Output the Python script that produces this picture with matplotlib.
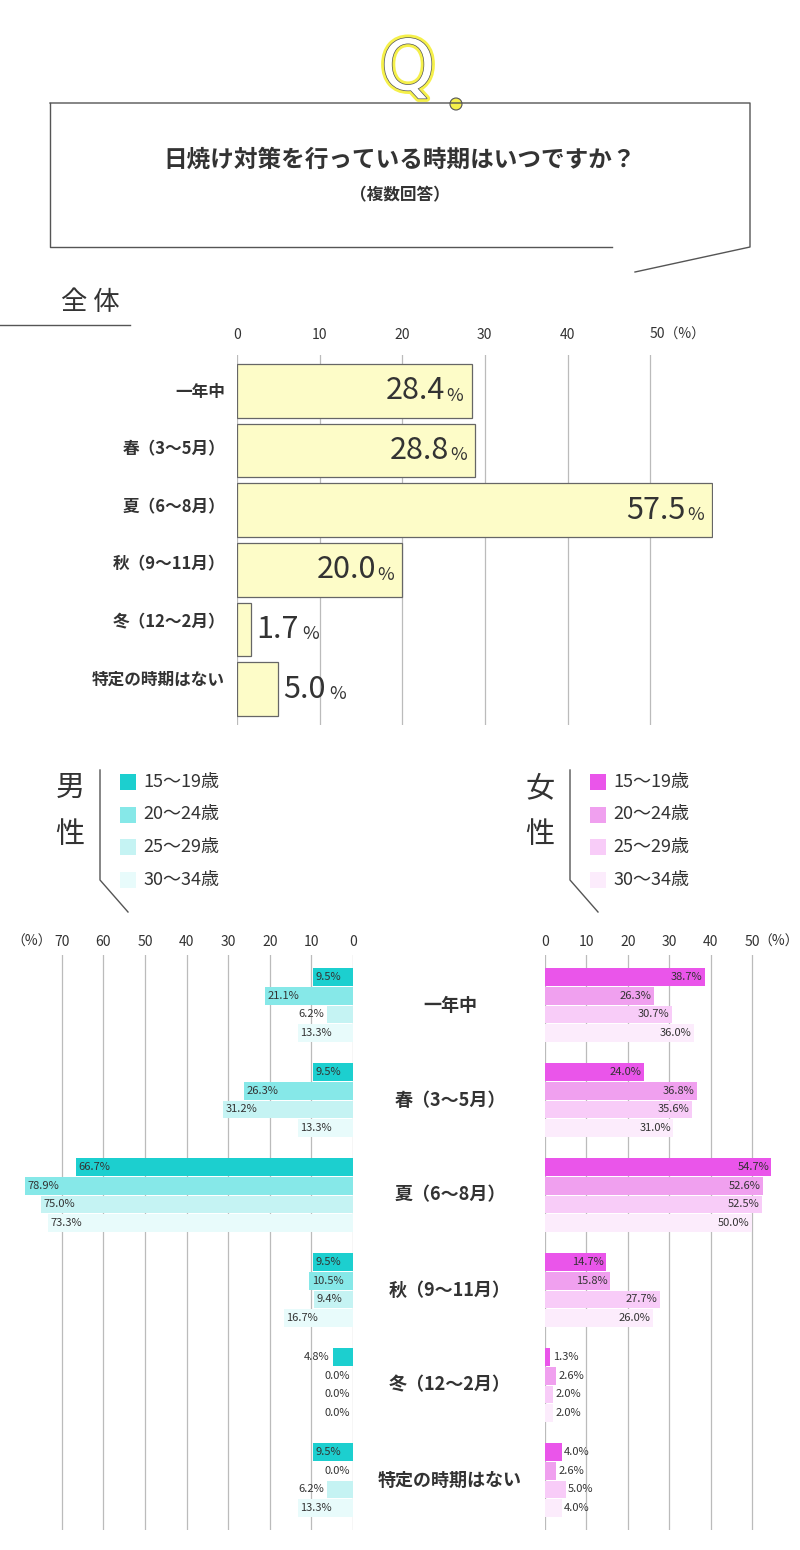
import matplotlib
matplotlib.use("Agg")
import matplotlib.pyplot as plt
import matplotlib.patheffects as pe
from matplotlib.lines import Line2D
from matplotlib.patches import Rectangle, Ellipse

plt.rcParams["font.family"] = ["Noto Sans CJK JP", "DejaVu Sans"]

CATEGORIES = ["一年中", "春（3～5月）", "夏（6～8月）", "秋（9～11月）", "冬（12～2月）", "特定の時期はない"]
TOTAL = [28.4, 28.8, 57.5, 20.0, 1.7, 5.0]
AGES = ["15～19歳", "20～24歳", "25～29歳", "30～34歳"]
MEN = [
    [9.5, 21.1, 6.2, 13.3],
    [9.5, 26.3, 31.2, 13.3],
    [66.7, 78.9, 75.0, 73.3],
    [9.5, 10.5, 9.4, 16.7],
    [4.8, 0.0, 0.0, 0.0],
    [9.5, 0.0, 6.2, 13.3],
]
WOMEN = [
    [38.7, 26.3, 30.7, 36.0],
    [24.0, 36.8, 35.6, 31.0],
    [54.7, 52.6, 52.5, 50.0],
    [14.7, 15.8, 27.7, 26.0],
    [1.3, 2.6, 2.0, 2.0],
    [4.0, 2.6, 5.0, 4.0],
]
MEN_COLORS = ["#1ccfcf", "#86e8e8", "#c5f3f3", "#e8fbfb"]
WOMEN_COLORS = ["#ea55ea", "#f0a0ef", "#f8ccf8", "#fcecfc"]
INK = "#333333"
GRID = "#bbbbbb"
W, H = 800, 1550

fig = plt.figure(figsize=(8, 15.5), dpi=100, facecolor="white")


def fx(x):
    return x / W


def fy(y):
    return 1 - y / H


def line(xs, ys, color="#555555", lw=1.0):
    fig.add_artist(Line2D([fx(x) for x in xs], [fy(y) for y in ys], color=color, lw=lw))


def pax(x0, y0, x1, y1):
    return fig.add_axes([fx(x0), fy(y1), (x1 - x0) / W, (y1 - y0) / H])


# header box
line([50, 750, 750, 635], [103, 103, 247, 272])
line([612, 50, 50], [247, 247, 103])
fig.text(fx(408), fy(70), "Q", fontsize=50, ha="center", va="center", color="white",
         family="DejaVu Sans",
         path_effects=[pe.withStroke(linewidth=5, foreground="#f5f04a"),
                       pe.withStroke(linewidth=1, foreground="#555555")])
fig.add_artist(Ellipse((fx(456), fy(104)), 12 / W, 12 / H, transform=fig.transFigure,
                       facecolor="#f5f04a", edgecolor="#555555", lw=0.8))
fig.text(fx(400), fy(160), "日焼け対策を行っている時期はいつですか？", fontsize=17, ha="center",
         va="center", color=INK, fontweight="bold")
fig.text(fx(400), fy(195), "（複数回答）", fontsize=12, ha="center", va="center", color=INK,
         fontweight="bold")

# overall
fig.text(fx(90), fy(303), "全 体", fontsize=19, ha="center", va="center", color=INK)
line([0, 130], [325, 325])

ax = pax(237, 355, 713, 725)
ax.set_xlim(0, 57.6)
ax.set_ylim(len(TOTAL) - 0.4, -0.6)
for spine in ax.spines.values():
    spine.set_visible(False)
ax.set_xticks([0, 10, 20, 30, 40, 50])
ax.grid(axis="x", color=GRID, lw=0.9)
ax.set_axisbelow(True)
ax.tick_params(length=0, labelbottom=False, labelleft=False)
ax.barh(range(len(TOTAL)), TOTAL, height=0.9, color="#fdfcc8", edgecolor="#666666", lw=0.9)
for i, v in enumerate(TOTAL):
    if v >= 10:
        ax.text(v - 1, i + 0.08, "%", fontsize=13, ha="right", va="center", color=INK)
        ax.text(v - 3.2, i, f"{v:.1f}", fontsize=22, ha="right", va="center", color=INK)
    else:
        ax.text(v + 0.6, i, f"{v:.1f}", fontsize=22, ha="left", va="center", color=INK)
        ax.text(v + 6.2, i + 0.08, "%", fontsize=13, ha="left", va="center", color=INK)
for i, c in enumerate(CATEGORIES):
    fig.text(fx(225), fy(392 + i * 57.6), c, fontsize=12, ha="right", va="center", color=INK,
             fontweight="bold")
for t in [0, 10, 20, 30, 40]:
    fig.text(fx(237 + t * 8.26), fy(335), str(t), fontsize=10, ha="center", va="center", color=INK)
fig.text(fx(650), fy(335), "50（%）", fontsize=10, ha="left", va="center", color=INK)

# legends
for x_label, x_line, x_sq, name, colors in [(70, 100, 120, "男", MEN_COLORS), (540, 570, 590, "女", WOMEN_COLORS)]:
    fig.text(fx(x_label), fy(788), name, fontsize=21, ha="center", va="center", color=INK)
    fig.text(fx(x_label), fy(835), "性", fontsize=21, ha="center", va="center", color=INK)
    line([x_line, x_line, x_line + 28], [770, 880, 912])
    for k, (a, c) in enumerate(zip(AGES, colors)):
        yy = 782 + k * 32.5
        fig.add_artist(Rectangle((fx(x_sq), fy(yy + 8)), 16 / W, 16 / H, transform=fig.transFigure,
                                 facecolor=c, edgecolor="none"))
        fig.text(fx(x_sq + 23), fy(yy), a, fontsize=13, ha="left", va="center", color=INK)

# gender axes
STEP = 18.7
GROUP = 95
Y0 = 977
n = len(CATEGORIES)


def bar_axes(x0, x1, xmax, invert):
    a = pax(x0, 955, x1, 1530)
    a.set_xlim(0, xmax)
    if invert:
        a.invert_xaxis()
    a.set_ylim((1530 - 955) / STEP, 0)
    for spine in a.spines.values():
        spine.set_visible(False)
    a.tick_params(length=0, labelbottom=False, labelleft=False)
    a.grid(axis="x", color=GRID, lw=0.9)
    a.set_axisbelow(True)
    return a


axm = bar_axes(20, 353, (353 - 20) / 4.16, True)
axm.set_xticks(range(0, 71, 10))
axw = bar_axes(545, 790, (790 - 545) / 4.14, False)
axw.set_xticks(range(0, 51, 10))

for gi in range(n):
    for k in range(4):
        yc = (Y0 + gi * GROUP + k * STEP - 955) / STEP
        vm = MEN[gi][k]
        vw = WOMEN[gi][k]
        axm.barh(yc, vm, height=0.95, color=MEN_COLORS[k])
        axw.barh(yc, vw, height=0.95, color=WOMEN_COLORS[k])
        if vm >= 9:
            axm.text(vm - 0.6, yc, f"{vm:.1f}%", fontsize=8, ha="left", va="center", color=INK)
        else:
            axm.text(vm + 0.8, yc, f"{vm:.1f}%", fontsize=8, ha="right", va="center", color=INK)
        if vw >= 10:
            axw.text(vw - 0.6, yc, f"{vw:.1f}%", fontsize=8, ha="right", va="center", color=INK)
        else:
            axw.text(vw + 0.6, yc, f"{vw:.1f}%", fontsize=8, ha="left", va="center", color=INK)
    fig.text(fx(450), fy(Y0 + gi * GROUP + 1.5 * STEP), CATEGORIES[gi], fontsize=13,
             ha="center", va="center", color=INK, fontweight="bold")

for t in range(0, 71, 10):
    fig.text(fx(353 - t * 4.16), fy(942), str(t), fontsize=10, ha="center", va="center", color=INK)
fig.text(fx(52), fy(942), "（%）", fontsize=10, ha="right", va="center", color=INK)
for t in range(0, 51, 10):
    fig.text(fx(545 + t * 4.14), fy(942), str(t), fontsize=10, ha="center", va="center", color=INK)
fig.text(fx(758), fy(942), "（%）", fontsize=10, ha="left", va="center", color=INK)

fig.savefig("out.png", dpi=100, facecolor="white")
